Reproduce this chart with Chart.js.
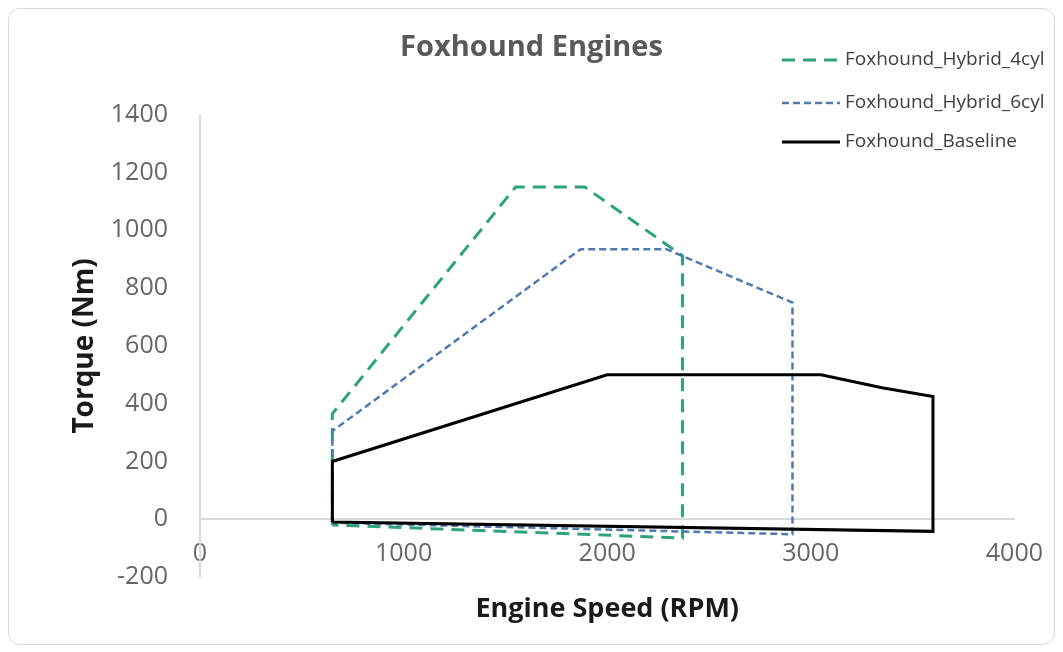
<!DOCTYPE html>
<html>
<head>
<meta charset="utf-8">
<script src="https://cdn.jsdelivr.net/npm/chart.js@4"></script>
<style>
  html, body { margin: 0; padding: 0; background: #fff; }
  #wrap { position: relative; width: 1063px; height: 652px; }
  #frame {
    position: absolute; left: 8px; top: 8px; width: 1045px; height: 635px;
    border: 1px solid #d9d9d9; border-radius: 12px;
  }
  #chart { position: absolute; left: 0; top: 0; }
</style>
</head>
<body>
<div id="wrap">
  <div id="frame"></div>
  <canvas id="chart" width="1063" height="652"></canvas>
</div>
<script>
// values
const seriesNames = ['Foxhound_Hybrid_4cyl', 'Foxhound_Hybrid_6cyl', 'Foxhound_Baseline'];

const hybrid4Rpm    = [650, 650, 1550, 1890, 2370, 2370, 650];
const hybrid4Torque = [-20, 365, 1150, 1150, 912, -65, -20];

const hybrid6Rpm    = [650, 650, 1870, 2290, 2910, 2910, 650];
const hybrid6Torque = [-12, 305, 935, 935, 750, -52, -12];

const baselineRpm    = [650, 650, 2000, 3050, 3350, 3600, 3600, 650];
const baselineTorque = [-10, 200, 500, 500, 455, 425, -42, -10];

const xTicks = [0, 1000, 2000, 3000, 4000];
const yTicks = [-200, 0, 200, 400, 600, 800, 1000, 1200, 1400];

function toPoints(xs, ys) {
  return xs.map((x, i) => ({ x: x, y: ys[i] }));
}

const FONT = "'Open Sans', 'Noto Sans', sans-serif";

// legend drawn in the top right corner, like the excel one
const cornerLegend = {
  id: 'cornerLegend',
  afterDraw(chart) {
    const ctx = chart.ctx;
    const rows = [60, 103, 142];
    ctx.save();
    chart.data.datasets.forEach((ds, i) => {
      const y = rows[i];
      ctx.beginPath();
      ctx.setLineDash(ds.borderDash || []);
      ctx.lineWidth = ds.borderWidth;
      ctx.strokeStyle = ds.borderColor;
      ctx.moveTo(782, y);
      ctx.lineTo(840, y);
      ctx.stroke();
      ctx.setLineDash([]);
      ctx.fillStyle = '#404040';
      ctx.font = '19px ' + FONT;
      ctx.textBaseline = 'middle';
      ctx.textAlign = 'left';
      ctx.fillText(ds.label, 845, y);
    });
    ctx.restore();
  }
};

new Chart(document.getElementById('chart'), {
  type: 'scatter',
  data: {
    datasets: [
      {
        label: seriesNames[0],
        data: toPoints(hybrid4Rpm, hybrid4Torque),
        borderColor: '#2ea27a',
        borderWidth: 3,
        borderDash: [13, 8],
        order: 2
      },
      {
        label: seriesNames[1],
        data: toPoints(hybrid6Rpm, hybrid6Torque),
        borderColor: '#4f79b0',
        borderWidth: 2.5,
        borderDash: [7, 4],
        order: 1
      },
      {
        label: seriesNames[2],
        data: toPoints(baselineRpm, baselineTorque),
        borderColor: '#000000',
        borderWidth: 3,
        order: 0
      }
    ]
  },
  options: {
    responsive: false,
    animation: false,
    showLine: true,
    elements: {
      point: { radius: 0, hoverRadius: 0 },
      line: { tension: 0, fill: false, borderJoinStyle: 'miter' }
    },
    layout: { padding: { left: 0, right: 0, top: 0, bottom: 75 } },
    plugins: {
      legend: { display: false },
      tooltip: { enabled: false },
      title: {
        display: true,
        text: 'Foxhound Engines',
        color: '#595959',
        font: { family: FONT, size: 29, weight: 'bold' },
        padding: { top: 30, bottom: 50 }
      }
    },
    scales: {
      x: {
        type: 'linear',
        position: { y: 0 },
        min: 0,
        max: 4000,
        afterBuildTicks: (axis) => { axis.ticks = xTicks.map(v => ({ value: v })); },
        grid: { display: false, drawTicks: false },
        border: { display: true, color: '#d9d9d9', width: 2 },
        ticks: {
          color: '#666666',
          padding: 20,
          font: { family: FONT, size: 25 },
          callback: (v) => String(v)
        },
        title: {
          display: true,
          text: 'Engine Speed (RPM)',
          color: '#1a1a1a',
          font: { family: FONT, size: 27, weight: 'bold' },
          padding: { top: 4, bottom: 0 }
        }
      },
      y: {
        type: 'linear',
        position: 'left',
        min: -200,
        max: 1400,
        afterBuildTicks: (axis) => { axis.ticks = yTicks.map(v => ({ value: v })); },
        afterFit: (axis) => { axis.width = 200; },
        grid: { display: false, drawTicks: false },
        border: { display: true, color: '#d9d9d9', width: 2 },
        ticks: {
          color: '#666666',
          padding: 32,
          font: { family: FONT, size: 25 },
          callback: (v) => String(v)
        },
        title: {
          display: true,
          text: 'Torque (Nm)',
          color: '#1a1a1a',
          font: { family: FONT, size: 28, weight: 'bold' },
          padding: { top: 68, bottom: 0 }
        }
      },
      // empty right-hand axis that only reserves the margin right of the plot
      yRight: {
        type: 'linear',
        position: 'right',
        display: true,
        afterFit: (axis) => { axis.width = 46; },
        grid: { display: false, drawTicks: false },
        border: { display: false },
        ticks: { display: false }
      }
    }
  },
  plugins: [cornerLegend]
});
</script>
</body>
</html>
